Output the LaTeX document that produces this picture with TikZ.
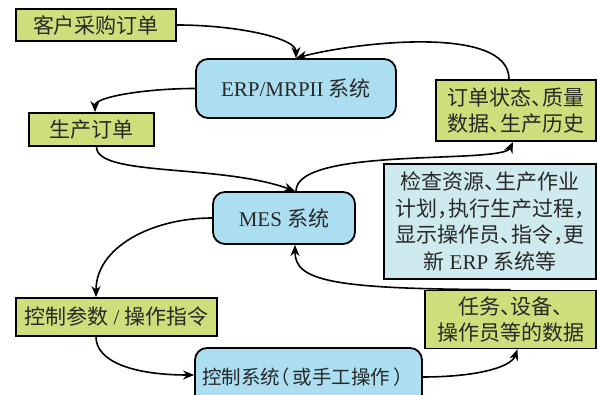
\documentclass[tikz,border=0pt]{standalone}
\usepackage{fontspec}
\setmainfont{Liberation Serif}
% half-width punctuation, as set in the labels
\newfontfamily\cjk{Noto Sans CJK SC}[RawFeature=+halt]
\usetikzlibrary{arrows.meta}
\definecolor{boxgreen}{RGB}{207,221,122}
\definecolor{boxblue}{RGB}{172,222,241}
\definecolor{boxcyan}{RGB}{206,234,238}
\definecolor{ink}{RGB}{40,40,40}
\tikzset{
  base/.style={draw=black, line width=1.8pt, text=ink, inner sep=0pt, align=center,
    font=\fontsize{21}{26.5}\selectfont},
  databox/.style={base, fill=boxgreen},
  sysbox/.style={base, fill=boxblue, rounded corners=12pt},
  notebox/.style={base, fill=boxcyan},
  flow/.style={line width=1.6pt, -{Stealth[length=11pt,width=9pt,inset=3.5pt]}},
}
\begin{document}
\begin{tikzpicture}[x=1pt,y=1pt]
\useasboundingbox (0,0) rectangle (598,395);

% systems
\node[sysbox, minimum width=200pt, minimum height=59pt] (erp) at (296,306.5) {ERP/MRPII {\cjk 系统}};
\node[sysbox, minimum width=142pt, minimum height=52pt] (mes) at (284,177) {MES {\cjk 系统}};
\node[sysbox, minimum width=227pt, minimum height=58pt, font=\fontsize{19.5}{24}\selectfont] (ctrls) at (308.5,18)
  {\hbox{\cjk 控制系统（\kern3pt 或手工操作\kern3pt ）\kern12pt}};

% data items
\node[databox, minimum width=160pt, minimum height=32pt] (order) at (96,370) {\cjk 客户采购订单};
\node[databox, minimum width=125pt, minimum height=33pt] (prod) at (91.5,265.5) {\cjk 生产订单};
\node[databox, minimum width=160pt, minimum height=61pt] (status) at (516,284.5) {\cjk 订单状态、质量\\\cjk 数据、生产历史};
\node[databox, minimum width=201pt, minimum height=38pt] (param) at (116.5,78) {{\cjk 控制参数} / {\cjk 操作指令}};
\node[databox, minimum width=171pt, minimum height=58pt] (data) at (510.5,75.5) {\cjk 任务、设备、\\\cjk 操作员等的数据};

% MES functions
\node[notebox, minimum width=212pt, minimum height=115pt] (note) at (490,173.5)
  {\cjk 检查资源、生产作业\\\cjk 计划，执行生产过程，\\\cjk 显示操作员、指令，更\\{\cjk 新} ERP {\cjk 系统等}};

% information flow
\draw[flow] (order.east) to[out=0,in=90,out distance=60pt,in distance=20pt] (erp.north);
\draw[flow] ([xshift=-7pt]status.north) to[out=90,in=15,out distance=55pt,in distance=60pt] (erp.north);
\draw[flow] (erp.west) to[out=180,in=90,out distance=50pt,in distance=15pt] ([xshift=3.5pt]prod.north);
\draw[flow] ([xshift=5pt]prod.south) to[out=-90,in=160,out distance=30pt,in distance=80pt] ([xshift=11pt]mes.north);
\draw[flow] ([xshift=12pt]mes.north) to[out=90,in=-115,out distance=45pt,in distance=25pt] ([xshift=-3pt]status.south);
\draw[flow] (mes.west) to[out=180,in=90,out distance=60pt,in distance=50pt] ([xshift=-20.5pt]param.north);
\draw[flow] ([xshift=-20.5pt]param.south) to[out=-90,in=180,out distance=25pt,in distance=60pt] ([yshift=2pt]ctrls.west);
\draw[flow] (ctrls.east) to[out=0,in=-110,out distance=50pt,in distance=20pt] ([xshift=7pt]data.south);
\draw[flow] (data.north) to[out=180,in=-90,out distance=180pt,in distance=36pt] ([xshift=11pt]mes.south);
\end{tikzpicture}
\end{document}
